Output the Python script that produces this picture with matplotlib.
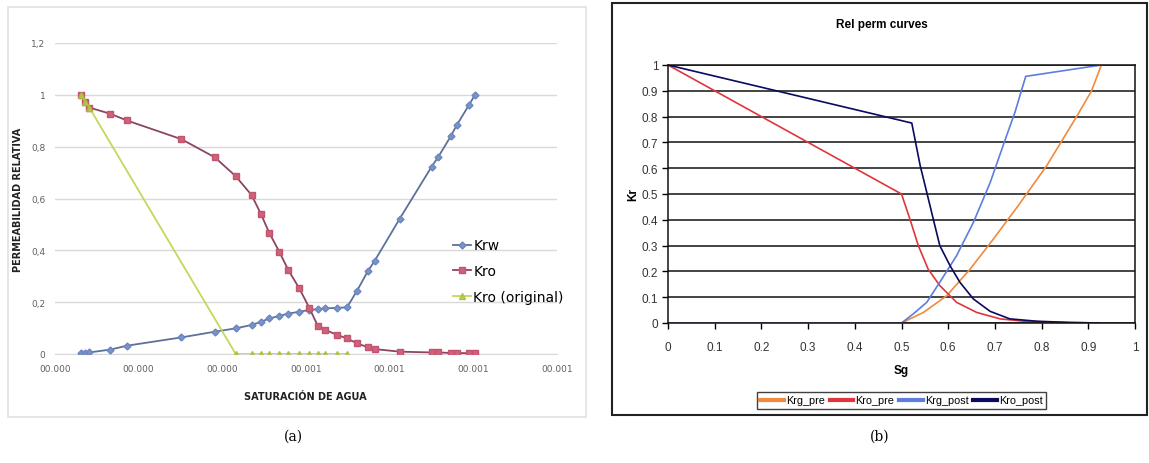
import matplotlib
matplotlib.use("Agg")
import matplotlib.pyplot as plt
from matplotlib.patches import Rectangle

# ---------------- Panel (a) data ----------------
sw = [0.031, 0.036, 0.041, 0.066, 0.086, 0.151, 0.191, 0.216, 0.235, 0.246,
      0.256, 0.268, 0.279, 0.292, 0.304, 0.314, 0.323, 0.337, 0.349, 0.361,
      0.374, 0.382, 0.412, 0.450, 0.458, 0.473, 0.480, 0.495, 0.502]
krw = [0.003, 0.004, 0.006, 0.017, 0.032, 0.064, 0.086, 0.099, 0.112, 0.124,
       0.137, 0.147, 0.156, 0.163, 0.170, 0.173, 0.176, 0.178, 0.180, 0.244,
       0.320, 0.359, 0.522, 0.722, 0.760, 0.840, 0.882, 0.962, 1.000]
kro = [1.000, 0.974, 0.951, 0.927, 0.901, 0.829, 0.759, 0.686, 0.613, 0.541,
       0.468, 0.395, 0.323, 0.253, 0.178, 0.109, 0.093, 0.074, 0.060, 0.041,
       0.026, 0.019, 0.009, 0.006, 0.006, 0.004, 0.004, 0.003, 0.003]
sw_orig = [0.031, 0.036, 0.041, 0.216, 0.235, 0.246, 0.256, 0.268, 0.279,
           0.292, 0.304, 0.314, 0.323, 0.337, 0.349]
kro_orig = [1.000, 0.974, 0.951, 0.0, 0.0, 0.0, 0.0, 0.0, 0.0,
            0.0, 0.0, 0.0, 0.0, 0.0, 0.0]
a_xticks = [0.0, 0.1, 0.2, 0.3, 0.4, 0.5, 0.6]
a_xticklabels = ["00.000", "00.000", "00.000", "00.001", "00.001", "00.001", "00.001"]
a_yticks = [0.0, 0.2, 0.4, 0.6, 0.8, 1.0, 1.2]
a_yticklabels = ["0", "0,2", "0,4", "0,6", "0,8", "1", "1,2"]

# ---------------- Panel (b) data ----------------
sg_krg_pre = [0.0, 0.50, 0.547, 0.597, 0.647, 0.697, 0.750, 0.811, 0.875, 0.907, 0.928]
krg_pre = [0.0, 0.0, 0.041, 0.106, 0.209, 0.326, 0.455, 0.610, 0.800, 0.900, 1.0]
sg_kro_pre = [0.0, 0.50, 0.518, 0.536, 0.557, 0.582, 0.618, 0.661, 0.711, 0.768, 0.85, 0.93]
kro_pre = [1.0, 0.50, 0.403, 0.300, 0.209, 0.145, 0.080, 0.041, 0.016, 0.006, 0.002, 0.0]
sg_krg_post = [0.0, 0.50, 0.525, 0.554, 0.582, 0.618, 0.654, 0.690, 0.725, 0.743, 0.766, 0.928]
krg_post = [0.0, 0.0, 0.035, 0.080, 0.158, 0.261, 0.390, 0.545, 0.726, 0.817, 0.956, 1.0]
sg_kro_post = [0.0, 0.522, 0.540, 0.554, 0.568, 0.582, 0.604, 0.625, 0.654, 0.690,
               0.732, 0.789, 0.861, 0.925]
kro_post = [1.0, 0.775, 0.610, 0.507, 0.403, 0.300, 0.222, 0.158, 0.093, 0.045,
            0.016, 0.007, 0.002, 0.0]
b_ticks = [0, 0.1, 0.2, 0.3, 0.4, 0.5, 0.6, 0.7, 0.8, 0.9, 1]
b_ticklabels = ["0", "0.1", "0.2", "0.3", "0.4", "0.5", "0.6", "0.7", "0.8", "0.9", "1"]

W, H = 1149, 464
fig = plt.figure(figsize=(W / 100, H / 100), dpi=100)


def rect(x0, y0, x1, y1):
    return [x0 / W, 1 - y1 / H, (x1 - x0) / W, (y1 - y0) / H]


# ---- panel (a) ----
fig.patches.append(Rectangle((8 / W, 1 - 418 / H), (586 - 8) / W, (418 - 8) / H,
                             transform=fig.transFigure, fill=False,
                             edgecolor="#e2e2e2", linewidth=1.2))
axa = fig.add_axes(rect(55, 44, 557, 355))
axa.plot(sw, krw, color="#5d7199", lw=1.3, marker="D", ms=3.5,
         mfc="#7a93c9", mec="#6c86be", label="Krw", zorder=3)
axa.plot(sw, kro, color="#8c4466", lw=1.3, marker="s", ms=5,
         mfc="#d2607a", mec="#c05570", label="Kro", zorder=4)
axa.plot(sw_orig, kro_orig, color="#bfd34a", lw=1.3, marker="^", ms=5,
         mfc="#b7cc45", mec="#a9bd3c", label="Kro (original)", zorder=5, alpha=0.9)
axa.set_xlim(0, 0.6)
axa.set_ylim(0, 1.2)
axa.set_xticks(a_xticks)
axa.set_xticklabels(a_xticklabels)
axa.set_yticks(a_yticks)
axa.set_yticklabels(a_yticklabels)
axa.tick_params(axis="both", length=0, labelsize=6.5, labelcolor="#606060", pad=7)
axa.grid(axis="y", color="#d9d9d9", lw=1.0)
for s in ["top", "right", "left"]:
    axa.spines[s].set_visible(False)
axa.spines["bottom"].set_color("#d9d9d9")
axa.set_axisbelow(True)
axa.set_xlabel("SATURACIÓN DE AGUA", fontsize=7, fontweight="bold",
               color="#222222", family="DejaVu Sans")
axa.set_ylabel("PERMEABILIDAD RELATIVA", fontsize=7, fontweight="bold",
               color="#222222", family="DejaVu Sans")
axa.xaxis.set_label_coords((305 - 55) / (557 - 55), -(392 - 355) / (355 - 44))
axa.yaxis.set_label_coords(-(55 - 23) / (557 - 55), (355 - 200) / (355 - 44))
axa.legend(loc="upper left", bbox_to_anchor=(440 / W, 1 - 227 / H),
           bbox_transform=fig.transFigure, frameon=False, fontsize=10,
           labelspacing=0.85, handlelength=1.3, handletextpad=0.2)

# ---- panel (b) ----
fig.patches.append(Rectangle((612 / W, 1 - 416 / H), (1147 - 612) / W, (416 - 4) / H,
                             transform=fig.transFigure, fill=False,
                             edgecolor="#222222", linewidth=1.5))
axb = fig.add_axes(rect(668, 66, 1135, 324))
axb.plot(sg_krg_pre, krg_pre, color="#f28a3c", lw=1.2, label="Krg_pre")
axb.plot(sg_kro_pre, kro_pre, color="#e0353a", lw=1.2, label="Kro_pre")
axb.plot(sg_krg_post, krg_post, color="#5b7ee0", lw=1.2, label="Krg_post")
axb.plot(sg_kro_post, kro_post, color="#0a0a5e", lw=1.2, label="Kro_post")
axb.set_xlim(0, 1)
axb.set_ylim(0, 1)
axb.set_xticks(b_ticks)
axb.set_xticklabels(b_ticklabels)
axb.set_yticks(b_ticks)
axb.set_yticklabels(b_ticklabels)
axb.grid(axis="y", color="#111111", lw=1.1)
axb.set_axisbelow(True)
for s in axb.spines.values():
    s.set_color("#111111")
    s.set_linewidth(1.1)
axb.tick_params(axis="both", direction="out", length=4, width=1,
                labelsize=8.5, labelcolor="#333333")
axb.tick_params(axis="x", pad=9)
axb.tick_params(axis="y", pad=3)
for lab in axb.get_xticklabels() + axb.get_yticklabels():
    lab.set_family("Liberation Sans")
axb.set_xlabel("Sg", fontsize=8.5, fontweight="bold", family="Liberation Sans", labelpad=8)
axb.set_ylabel("Kr", fontsize=8.5, fontweight="bold", family="Liberation Sans", labelpad=2)
fig.text(882 / W, 1 - 25 / H, "Rel perm curves", ha="center", va="center",
         fontsize=8.5, fontweight="bold", family="Liberation Sans")
leg = axb.legend(loc="center", bbox_to_anchor=(901.5 / W, 1 - 401.5 / H),
                 bbox_transform=fig.transFigure, ncol=4,
                 handlelength=2.2, handletextpad=0.2, columnspacing=0.4,
                 borderpad=0.3, fancybox=False, edgecolor="#111111",
                 prop={"family": "Liberation Sans", "size": 7.8})
leg.get_frame().set_linewidth(1.0)
for l in leg.get_lines():
    l.set_linewidth(3.0)

# captions
fig.text(293 / W, 1 - 437 / H, "(a)", ha="center", va="center",
         fontsize=10, family="DejaVu Serif")
fig.text(880 / W, 1 - 437 / H, "(b)", ha="center", va="center",
         fontsize=10, family="DejaVu Serif")

fig.savefig("out.png", dpi=100)
